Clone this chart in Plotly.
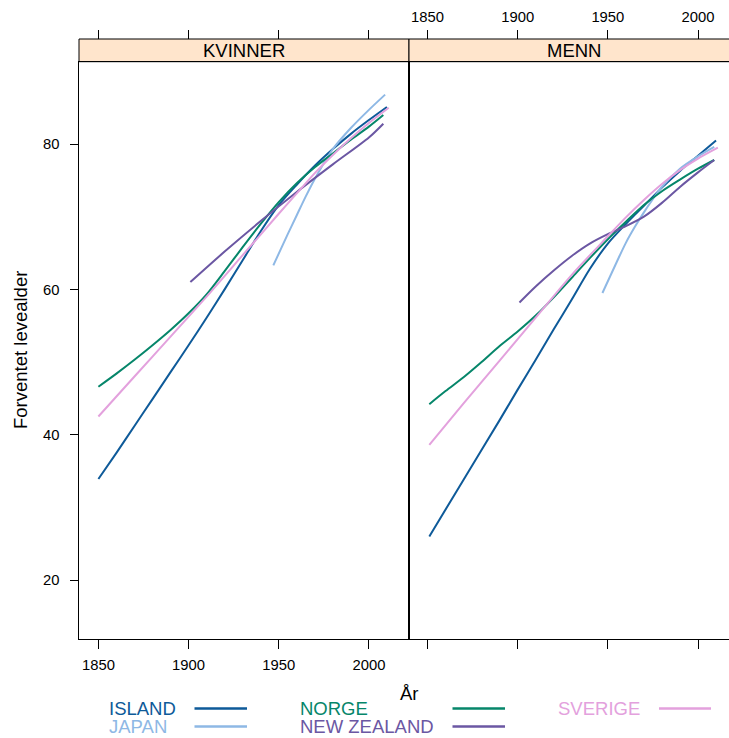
import plotly.graph_objects as go

# ---------------- data ----------------
countries = ["ISLAND", "JAPAN", "NORGE", "NEW ZEALAND", "SVERIGE"]
panels = ["KVINNER", "MENN"]
x_ticks = [1850, 1900, 1950, 2000]
y_ticks = [20, 40, 60, 80]

# KVINNER (women)
k_island_year = [1850, 1860, 1870, 1880, 1890, 1900, 1910, 1920, 1930, 1940, 1950, 1960, 1970, 1980, 1990, 2000, 2010]
k_island_val = [33.9, 37.5, 41.2, 44.9, 48.6, 52.3, 56.1, 60.0, 64.0, 68.0, 71.6, 74.4, 77.0, 79.3, 81.4, 83.3, 85.1]
k_japan_year = [1947, 1955, 1960, 1965, 1970, 1980, 1990, 2000, 2009]
k_japan_val = [63.3, 67.6, 70.2, 72.8, 75.2, 79.3, 82.2, 84.7, 86.8]
k_norge_year = [1850, 1860, 1870, 1880, 1890, 1900, 1910, 1920, 1930, 1940, 1950, 1960, 1970, 1980, 1990, 2000, 2008]
k_norge_val = [46.6, 48.4, 50.3, 52.3, 54.4, 56.7, 59.3, 62.5, 65.8, 69.0, 72.0, 74.6, 76.8, 78.7, 80.6, 82.4, 84.0]
k_nz_year = [1901, 1920, 1940, 1960, 1980, 2000, 2008]
k_nz_val = [61.0, 65.2, 69.4, 73.4, 77.2, 80.9, 82.8]
k_sverige_year = [1850, 1870, 1890, 1910, 1930, 1950, 1960, 1970, 1980, 1990, 2000, 2011]
k_sverige_val = [42.5, 48.0, 53.5, 59.0, 64.7, 70.4, 73.2, 76.0, 78.5, 80.8, 82.9, 85.0]

# MENN (men)
m_island_year = [1851, 1870, 1890, 1900, 1910, 1920, 1930, 1940, 1950, 1960, 1970, 1980, 1990, 2000, 2010]
m_island_val = [26.0, 33.8, 42.0, 46.2, 50.3, 54.5, 58.6, 62.8, 66.3, 69.0, 71.5, 74.0, 76.3, 78.4, 80.5]
m_japan_year = [1947, 1955, 1960, 1965, 1970, 1980, 1990, 2000, 2009]
m_japan_val = [59.5, 63.8, 66.4, 68.6, 70.6, 74.1, 76.6, 78.3, 79.6]
m_norge_year = [1851, 1860, 1870, 1880, 1890, 1900, 1910, 1920, 1930, 1940, 1950, 1960, 1970, 1980, 1990, 2000, 2009]
m_norge_val = [44.2, 46.0, 47.9, 50.0, 52.2, 54.2, 56.4, 58.9, 61.6, 64.3, 66.9, 69.3, 71.6, 73.5, 75.1, 76.6, 77.8]
m_nz_year = [1901, 1910, 1920, 1930, 1940, 1950, 1960, 1970, 1980, 1990, 2000, 2009]
m_nz_val = [58.2, 60.4, 62.6, 64.6, 66.3, 67.6, 68.7, 70.0, 71.9, 74.1, 76.1, 77.8]
m_sverige_year = [1851, 1870, 1890, 1910, 1930, 1950, 1960, 1970, 1980, 1990, 2000, 2011]
m_sverige_val = [38.6, 44.3, 50.2, 56.1, 62.0, 67.3, 69.9, 72.3, 74.5, 76.4, 78.0, 79.5]

colors = ["#0E5A99", "#8EB8E5", "#06866A", "#6B57A3", "#E3A1DD"]

kvinner = [(k_island_year, k_island_val), (k_japan_year, k_japan_val), (k_norge_year, k_norge_val),
           (k_nz_year, k_nz_val), (k_sverige_year, k_sverige_val)]
menn = [(m_island_year, m_island_val), (m_japan_year, m_japan_val), (m_norge_year, m_norge_val),
        (m_nz_year, m_nz_val), (m_sverige_year, m_sverige_val)]

# ---------------- figure ----------------
FONT = "Liberation Sans, Arial, Helvetica, sans-serif"
W, H = 729, 738
ML, MR, MT, MB = 79, 0, 39, 99
plot_w = W - ML - MR
plot_h = H - MT - MB
dl = 330 / plot_w                     # split between panels
ytop = (639 - 61.7) / plot_h          # top of the panels (strip sits above)

fig = go.Figure()
for ci, name in enumerate(countries):
    for (xs, ys), xa, ya in [(kvinner[ci], "x", "y"), (menn[ci], "x2", "y2")]:
        fig.add_trace(go.Scatter(x=xs, y=ys, mode="lines", xaxis=xa, yaxis=ya,
                                 line=dict(color=colors[ci], width=2, shape="spline", smoothing=0.8),
                                 name=name, showlegend=False, hoverinfo="skip"))
# empty traces so the top axes get drawn
fig.add_trace(go.Scatter(x=[None], y=[None], xaxis="x3", yaxis="y", showlegend=False, hoverinfo="skip"))
fig.add_trace(go.Scatter(x=[None], y=[None], xaxis="x4", yaxis="y2", showlegend=False, hoverinfo="skip"))

left_range = [1839.24, 2022.24]
right_range = [1839.74, 2017.19]
tickfont = dict(family=FONT, size=14.8, color="black")
common_x = dict(tickmode="array", tickvals=x_ticks, ticks="outside", ticklen=9, tickwidth=1,
                tickcolor="black", showgrid=False, zeroline=False, tickfont=tickfont)

fig.update_layout(
    width=W, height=H, margin=dict(l=ML, r=MR, t=MT, b=MB),
    paper_bgcolor="white", plot_bgcolor="white", showlegend=False,
    font=dict(family=FONT, color="black"),
    xaxis=dict(domain=[0, dl], anchor="y", range=left_range, side="bottom", ticklabelstandoff=3,
               showline=True, linecolor="black", linewidth=1, mirror=True, **common_x),
    xaxis2=dict(domain=[dl, 1], anchor="y2", range=right_range, side="bottom", showticklabels=False,
                showline=True, linecolor="black", linewidth=1, mirror=True, **common_x),
    xaxis3=dict(overlaying="x", anchor="free", position=1, side="top", range=left_range,
                showticklabels=False, showline=False, **common_x),
    xaxis4=dict(overlaying="x2", anchor="free", position=1, side="top", range=right_range,
                showticklabels=True, showline=False, ticklabelstandoff=2, **common_x),
    yaxis=dict(domain=[0, ytop], anchor="x", range=[11.88, 91.33], tickmode="array", tickvals=y_ticks,
               ticks="outside", ticklen=8.5, tickwidth=1, tickcolor="black", showgrid=False,
               zeroline=False, tickfont=tickfont, showline=True, linecolor="black", linewidth=1,
               mirror=True, ticklabelstandoff=7),
    yaxis2=dict(domain=[0, ytop], anchor="x2", range=[11.88, 91.33], showticklabels=False, ticks="",
                showgrid=False, zeroline=False, showline=True, linecolor="black", linewidth=1),
)

# strips
strip_x = [(0, dl), (dl, 1.05)]
for (x0, x1), label in zip(strip_x, panels):
    fig.add_shape(type="rect", xref="paper", yref="paper", x0=x0, x1=x1, y0=ytop, y1=1,
                  fillcolor="#FFE5CC", line=dict(color="black", width=1), layer="below")
centers = [dl / 2, (dl + (739 - ML) / plot_w) / 2]
for cx, label in zip(centers, panels):
    fig.add_annotation(x=cx, y=(ytop + 1) / 2, xref="paper", yref="paper", text=label,
                       showarrow=False, xanchor="center", yanchor="middle",
                       font=dict(family=FONT, size=18.5, color="black"))

# axis titles
fig.add_annotation(x=(409 - ML) / plot_w, y=(639 - 694) / plot_h, xref="paper", yref="paper",
                   text="År", showarrow=False, xanchor="center", yanchor="middle",
                   font=dict(family=FONT, size=18.5, color="black"))
fig.add_annotation(x=(20 - ML) / plot_w, y=(639 - 350) / plot_h, xref="paper", yref="paper",
                   text="Forventet levealder", textangle=-90, showarrow=False,
                   xanchor="center", yanchor="middle",
                   font=dict(family=FONT, size=18.5, color="black"))

# key at the bottom (3 columns, 2 rows)
col_px = [(107, 194.5, 247), (298, 452.5, 505), (556, 659, 711)]
row_py = [708.5, 726.5]
for ci, name in enumerate(countries):
    col, row = ci // 2, ci % 2
    tx, lx0, lx1 = col_px[col]
    py = row_py[row]
    yp = (639 - py) / plot_h
    fig.add_annotation(x=(tx - ML) / plot_w, y=yp, xref="paper", yref="paper", text=name,
                       showarrow=False, xanchor="left", yanchor="middle",
                       font=dict(family=FONT, size=18.5, color=colors[ci]))
    fig.add_shape(type="line", xref="paper", yref="paper", x0=(lx0 - ML) / plot_w, x1=(lx1 - ML) / plot_w,
                  y0=yp, y1=yp, line=dict(color=colors[ci], width=2.5))

fig.write_html("out.html")
